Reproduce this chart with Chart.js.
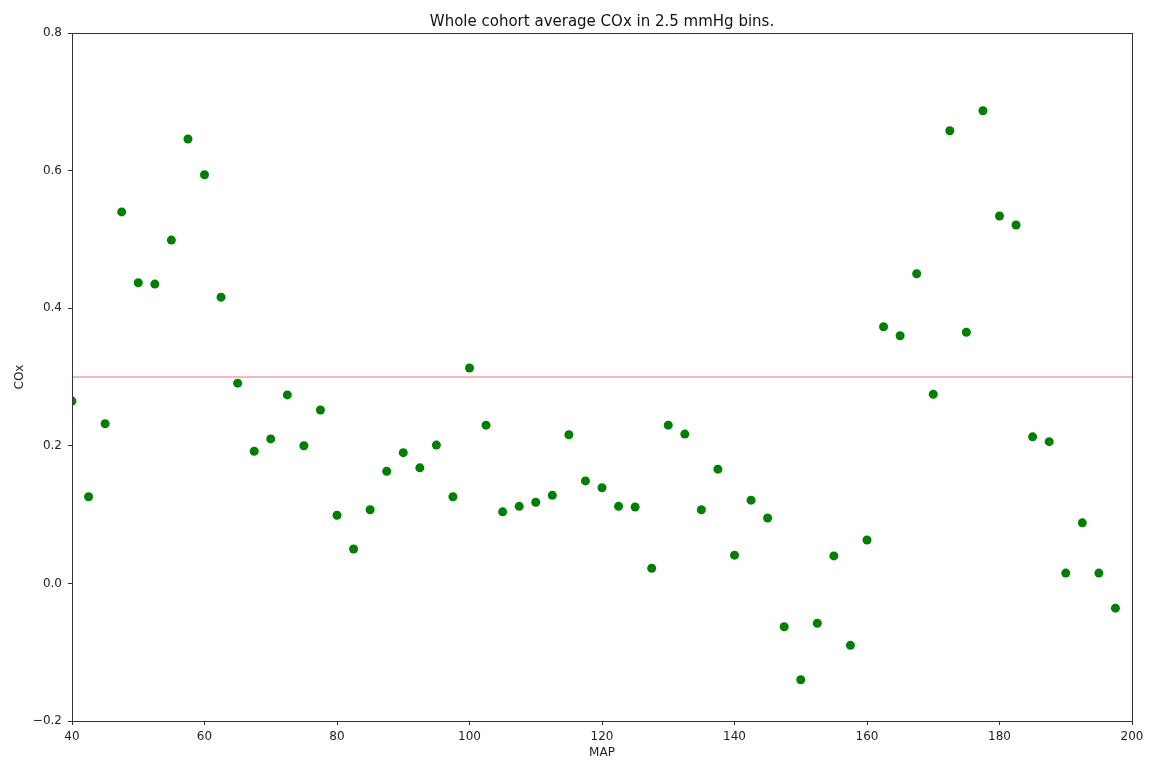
<!DOCTYPE html>
<html>
<head>
<meta charset="utf-8">
<script src="https://cdn.jsdelivr.net/npm/chart.js@4/dist/chart.umd.min.js"></script>
<style>
  html, body { margin: 0; padding: 0; background: #fff; }
  #wrap { width: 1154px; height: 761px; }
</style>
</head>
<body>
<div id="wrap"><canvas id="c" width="1154" height="761"></canvas></div>
<script>
// MAP bin centres (2.5 mmHg bins)
const mapBins = [
  40, 42.5, 45, 47.5, 50, 52.5, 55, 57.5, 60, 62.5,
  65, 67.5, 70, 72.5, 75, 77.5, 80, 82.5, 85, 87.5,
  90, 92.5, 95, 97.5, 100, 102.5, 105, 107.5, 110, 112.5,
  115, 117.5, 120, 122.5, 125, 127.5, 130, 132.5, 135, 137.5,
  140, 142.5, 145, 147.5, 150, 152.5, 155, 157.5, 160, 162.5,
  165, 167.5, 170, 172.5, 175, 177.5, 180, 182.5, 185, 187.5,
  190, 192.5, 195, 197.5
];

// Cohort average COx per bin
const coxMean = [
  0.265, 0.126, 0.232, 0.540, 0.437, 0.435, 0.499, 0.646, 0.594, 0.416,
  0.291, 0.192, 0.210, 0.274, 0.200, 0.252, 0.099, 0.050, 0.107, 0.163,
  0.190, 0.168, 0.201, 0.126, 0.313, 0.230, 0.104, 0.112, 0.118, 0.128,
  0.216, 0.149, 0.139, 0.112, 0.111, 0.022, 0.230, 0.217, 0.107, 0.166,
  0.041, 0.121, 0.095, -0.063, -0.140, -0.058, 0.040, -0.090, 0.063, 0.373,
  0.360, 0.450, 0.275, 0.658, 0.365, 0.687, 0.534, 0.521, 0.213, 0.206,
  0.015, 0.088, 0.015, -0.036
];

// Reference threshold line
const thresholdX = [40, 200];
const thresholdY = [0.3, 0.3];

const xTicks = [40, 60, 80, 100, 120, 140, 160, 180, 200];
const yTicks = [-0.2, 0.0, 0.2, 0.4, 0.6, 0.8];

const points = mapBins.map((x, i) => ({ x: x, y: coxMean[i] }));
const threshold = thresholdX.map((x, i) => ({ x: x, y: thresholdY[i] }));

const FONT = 'DejaVu Sans';

// Centre the title over the plot area rather than the whole canvas
const titleOverPlot = {
  id: 'titleOverPlot',
  afterLayout(chart) {
    const t = chart.titleBlock;
    if (t) {
      t.left = chart.chartArea.left;
      t.right = chart.chartArea.right;
      t.width = t.right - t.left;
    }
  }
};

// Draw the full box around the plot area (top and right spines)
const frame = {
  id: 'frame',
  afterDatasetsDraw(chart) {
    const a = chart.chartArea, ctx = chart.ctx;
    ctx.save();
    ctx.strokeStyle = '#333';
    ctx.lineWidth = 1;
    ctx.strokeRect(Math.round(a.left) + 0.5, Math.round(a.top) + 0.5,
                   Math.round(a.right - a.left), Math.round(a.bottom - a.top));
    ctx.restore();
  }
};

new Chart(document.getElementById('c'), {
  type: 'scatter',
  data: {
    datasets: [
      {
        type: 'line',
        data: threshold,
        borderColor: 'rgba(235,85,85,0.85)',
        borderWidth: 1,
        pointRadius: 0,
        fill: false,
        clip: 0,
        order: 2
      },
      {
        data: points,
        backgroundColor: '#008000',
        borderColor: '#008000',
        borderWidth: 0,
        pointRadius: 4.5,
        pointHoverRadius: 4.5,
        clip: 0,
        order: 1
      }
    ]
  },
  plugins: [titleOverPlot, frame],
  options: {
    responsive: false,
    animation: false,
    devicePixelRatio: 1,
    layout: { padding: { left: 0, right: 22, top: 0, bottom: 0 } },
    plugins: {
      legend: { display: false },
      tooltip: { enabled: false },
      title: {
        display: true,
        text: 'Whole cohort average COx in 2.5 mmHg bins.',
        color: '#111',
        font: { family: FONT, size: 15, weight: 'normal' },
        padding: { top: 13, bottom: 2 }
      }
    },
    scales: {
      x: {
        type: 'linear',
        min: 40,
        max: 200,
        afterBuildTicks: s => { s.ticks = xTicks.map(v => ({ value: v })); },
        afterFit: s => { s.height = 40; },
        ticks: {
          color: '#222',
          font: { family: FONT, size: 12 },
          padding: 5,
          maxRotation: 0,
          callback: v => String(v)
        },
        grid: { drawOnChartArea: false, tickLength: 4, color: '#333' },
        border: { color: '#333', width: 1 },
        title: {
          display: true,
          text: 'MAP',
          color: '#222',
          font: { family: FONT, size: 12 },
          padding: { top: 0, bottom: 1 }
        }
      },
      y: {
        type: 'linear',
        min: -0.2,
        max: 0.8,
        afterBuildTicks: s => { s.ticks = yTicks.map(v => ({ value: v })); },
        afterFit: s => { s.width = 72; },
        ticks: {
          color: '#222',
          font: { family: FONT, size: 12 },
          padding: 6,
          callback: v => (v < 0 ? '\u2212' : '') + Math.abs(v).toFixed(1)
        },
        grid: { drawOnChartArea: false, tickLength: 4, color: '#333' },
        border: { color: '#333', width: 1 },
        title: {
          display: true,
          text: 'COx',
          color: '#222',
          font: { family: FONT, size: 12 },
          padding: { top: 13, bottom: 0 }
        }
      }
    }
  }
});
</script>
</body>
</html>
